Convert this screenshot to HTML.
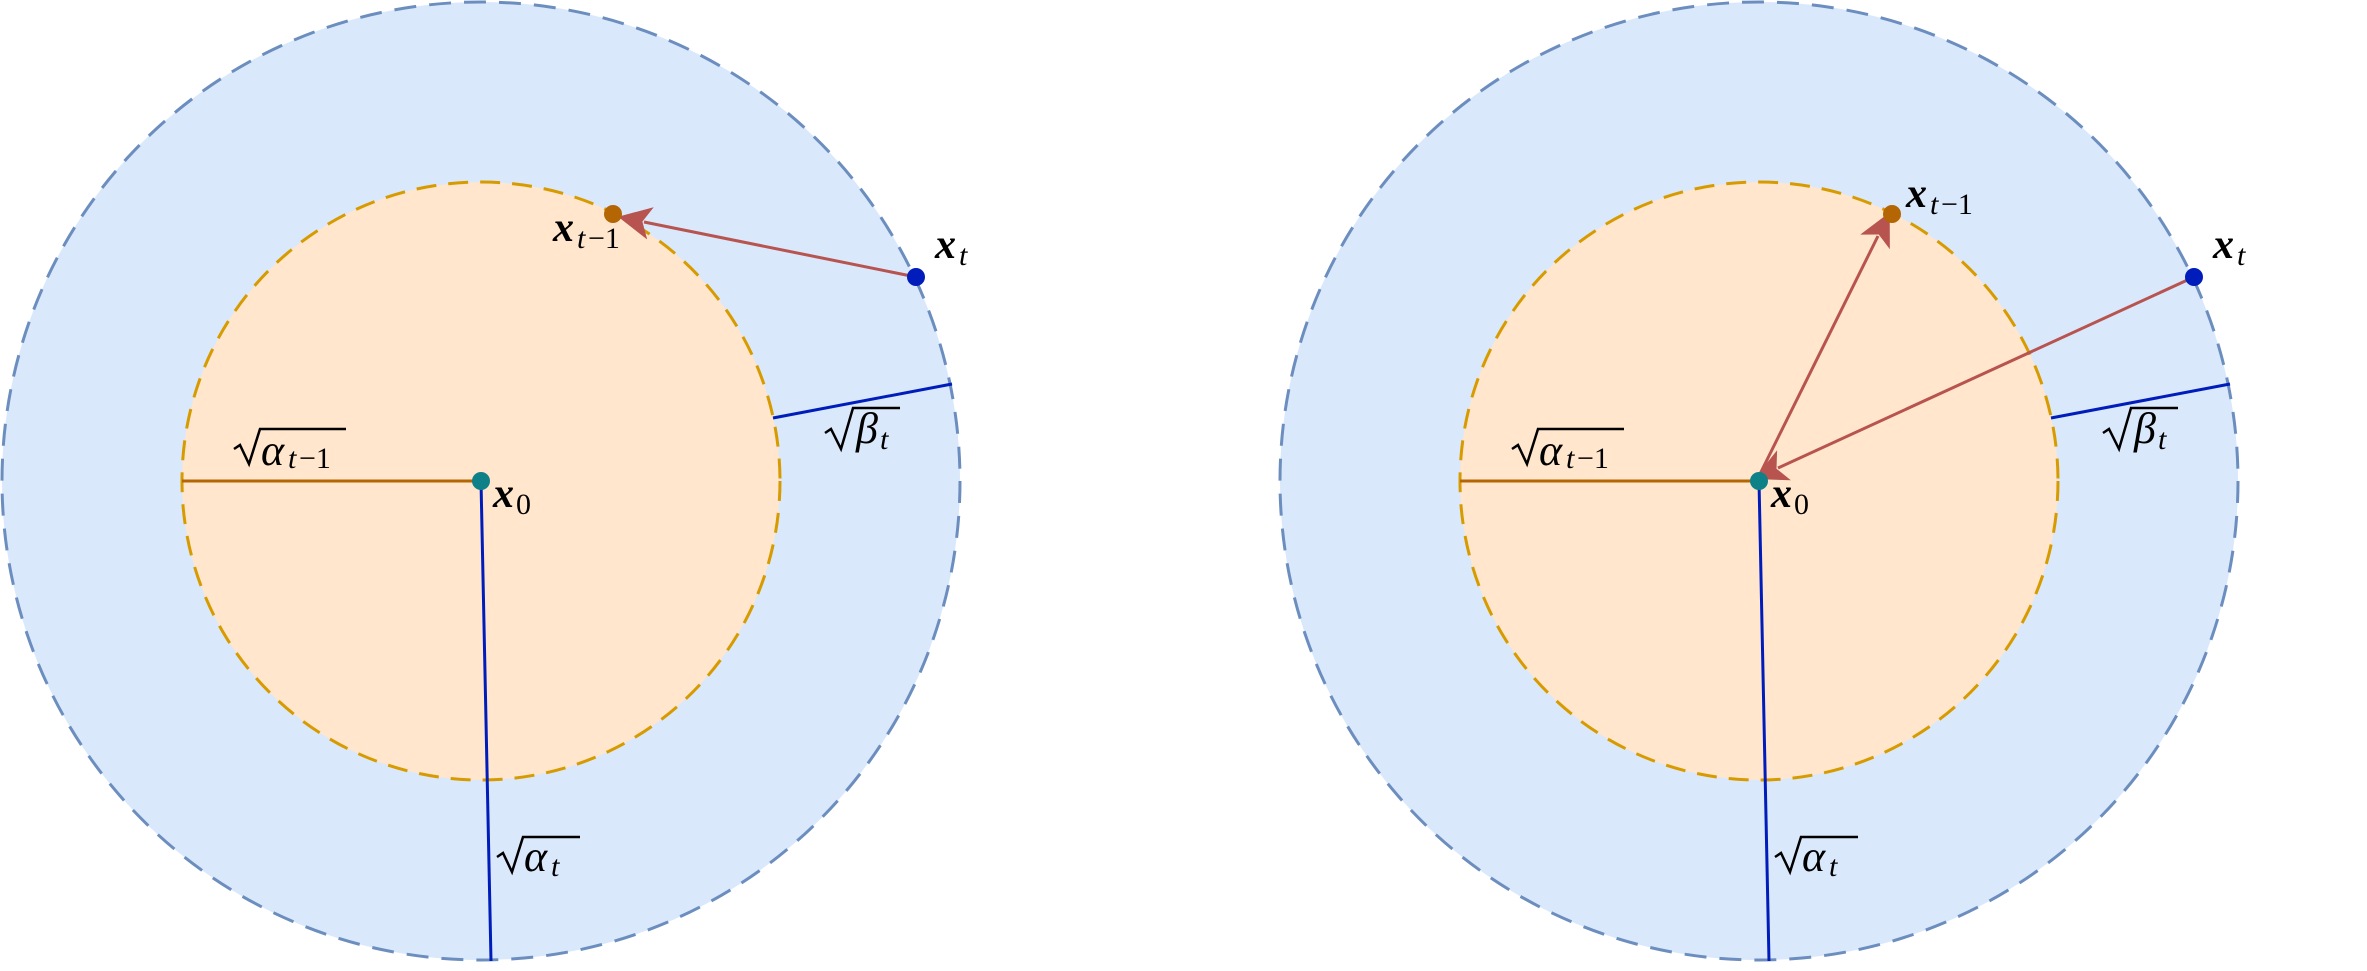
<!DOCTYPE html>
<html><head><meta charset="utf-8"><style>
html,body{margin:0;padding:0;background:#fff;}
svg text{font-family:"Liberation Serif","DejaVu Serif",serif;fill:#000;}
.b{font-weight:bold;font-style:italic;}
.i{font-style:italic;}
</style></head><body>
<svg width="2367" height="966" viewBox="0 0 2367 966" xmlns="http://www.w3.org/2000/svg">
<defs>
<marker id="ah" viewBox="0 0 20 20" refX="4" refY="10" markerWidth="11" markerHeight="11" markerUnits="strokeWidth" orient="auto">
<path d="M0,0 L20,10 L0,20 L5,10 Z" fill="#b85450"/>
</marker>
<g id="base">
<circle cx="481" cy="481" r="479" fill="#dae8fc" stroke="#6c8ebf" stroke-width="3" stroke-dasharray="22 13"/>
<circle cx="481" cy="481" r="299" fill="#ffe6cc" stroke="#d79b00" stroke-width="3" stroke-dasharray="20 12"/>
<line x1="182" y1="481" x2="481" y2="481" stroke="#b46504" stroke-width="3"/>
<line x1="481" y1="481" x2="491" y2="961" stroke="#001dbc" stroke-width="3"/>
<line x1="773" y1="418" x2="952" y2="384" stroke="#001dbc" stroke-width="3"/>
<!-- sqrt alpha_{t-1} -->
<path d="M234,449 L240,445 L249,464 L260,429 L346,429" fill="none" stroke="#000" stroke-width="2.5"/>
<text x="261" y="465" class="i" font-size="44">α</text>
<text x="288" y="468" class="i" font-size="30">t</text>
<text x="299" y="468" font-size="30">−1</text>
<!-- x0 -->
<text x="493" y="507" class="b" font-size="42">x</text>
<text x="516" y="514" font-size="30">0</text>
<!-- sqrt beta_t -->
<path d="M825,433 L831,429 L841,449 L853,408 L900,408" fill="none" stroke="#000" stroke-width="2.5"/>
<text x="856" y="443" class="i" font-size="44">β</text>
<text x="880" y="449" class="i" font-size="30">t</text>
<!-- sqrt alpha_t -->
<path d="M497,857 L503,853 L512,872 L523,837 L580,837" fill="none" stroke="#000" stroke-width="2.5"/>
<text x="524" y="871" class="i" font-size="44">α</text>
<text x="551" y="876" class="i" font-size="30">t</text>
<!-- x_t -->
<text x="935" y="258" class="b" font-size="42">x</text>
<text x="959" y="265" class="i" font-size="30">t</text>
</g>
</defs>

<use href="#base"/>
<line x1="916" y1="277" x2="644" y2="222" stroke="#b85450" stroke-width="3" marker-end="url(#ah)"/>
<circle cx="613" cy="214" r="9" fill="#b46504"/>
<circle cx="916" cy="277" r="9" fill="#001dbc"/>
<circle cx="481" cy="481" r="9" fill="#0e8088"/>
<text x="553" y="241" class="b" font-size="42">x</text>
<text x="577" y="248" class="i" font-size="30">t</text>
<text x="588" y="248" font-size="30">−1</text>

<g transform="translate(1278,0)">
<use href="#base"/>
<line x1="916" y1="277" x2="500" y2="468" stroke="#b85450" stroke-width="3" marker-end="url(#ah)"/>
<line x1="481" y1="476" x2="600" y2="236" stroke="#b85450" stroke-width="3" marker-end="url(#ah)"/>
<circle cx="614" cy="214" r="9" fill="#b46504"/>
<circle cx="916" cy="277" r="9" fill="#001dbc"/>
<circle cx="481" cy="481" r="9" fill="#0e8088"/>
<text x="628" y="207" class="b" font-size="42">x</text>
<text x="652" y="214" class="i" font-size="30">t</text>
<text x="663" y="214" font-size="30">−1</text>
</g>
</svg>
</body></html>
